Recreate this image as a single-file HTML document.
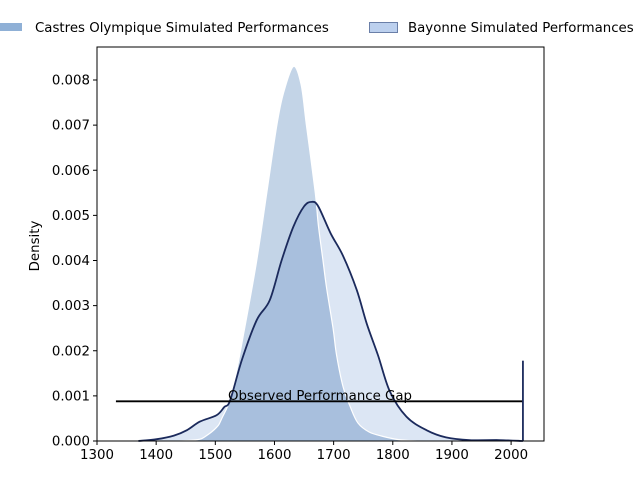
<!DOCTYPE html>
<html><head><meta charset="utf-8"><style>
body{margin:0;background:#fff}
svg{font-family:"DejaVu Sans","Liberation Sans",sans-serif}
</style></head><body>
<svg id="chart" width="640" height="480" viewBox="0 0 640 480">
<g id="plot"></g>
</svg>
<script>
const xTicks=[1300,1400,1500,1600,1700,1800,1900,2000];
const yTicks=[0,0.001,0.002,0.003,0.004,0.005,0.006,0.007,0.008];
const yTickLabels=["0.000","0.001","0.002","0.003","0.004","0.005","0.006","0.007","0.008"];
const castresX=[1440,1470,1483,1502,1511,1528,1550,1570,1587,1604,1615,1632,1645,1654,1669,1674,1682,1688,1699,1705,1716,1728,1741,1760,1784,1810,1840];
const castresY=[0,0.00003,0.0001,0.0003,0.0005,0.00106,0.00253,0.004,0.0055,0.007,0.0077,0.0083,0.0079,0.007,0.0055,0.0048,0.004,0.0034,0.0025,0.0019,0.0012,0.00076,0.0004,0.0002,0.0001,0.00003,0];
const bayonneX=[1370,1401,1430,1452,1474,1502,1515,1525,1545,1570,1592,1612,1632,1650,1663,1674,1695,1716,1739,1756,1775,1795,1823,1857,1890,1930,1980,2020];
const bayonneY=[0,0.00004,0.00012,0.00024,0.00043,0.00057,0.00075,0.0009,0.0018,0.00268,0.00312,0.004,0.00475,0.0052,0.0053,0.0052,0.0046,0.0041,0.00335,0.0026,0.0019,0.0011,0.00054,0.00024,0.00008,0.00002,0.00002,0];
const gapStart=1332, gapEnd=2020, gapLevel=0.00088, vlineTop=0.00178;

const X0=97,X1=544,Y0=441,Y1=47;
const xs=v=>97+(v-1300)*(511.1-97)/700;
const ys=v=>441-v*(441-80)/0.008;
const NS="http://www.w3.org/2000/svg";
const plot=document.getElementById('plot');
function mk(t,a,p){const e=document.createElementNS(NS,t);for(const k in a)e.setAttribute(k,a[k]);(p||plot).appendChild(e);return e;}
function smooth(xa,ya){
  const P=xa.map((x,i)=>[xs(x),ys(ya[i])]);
  let d=`M${P[0][0]},${P[0][1]}`;
  for(let i=0;i<P.length-1;i++){
    const p0=P[i-1]||P[i],p1=P[i],p2=P[i+1],p3=P[i+2]||P[i+1];
    const c1=[p1[0]+(p2[0]-p0[0])/6,p1[1]+(p2[1]-p0[1])/6];
    const c2=[p2[0]-(p3[0]-p1[0])/6,p2[1]-(p3[1]-p1[1])/6];
    d+=` C${c1[0]},${Math.min(c1[1],Y0)} ${c2[0]},${Math.min(c2[1],Y0)} ${p2[0]},${p2[1]}`;
  }
  return d;
}
const bd=smooth(bayonneX,bayonneY), cd=smooth(castresX,castresY);
let e;
e=mk('path',{d:bd+` L${xs(bayonneX[bayonneX.length-1])},${Y0} L${xs(bayonneX[0])},${Y0} Z`,fill:'#dce6f4'});

e=mk('path',{d:cd+` L${xs(castresX[castresX.length-1])},${Y0} L${xs(castresX[0])},${Y0} Z`,fill:'#c3d4e7',style:'mix-blend-mode:multiply'});

e=mk('path',{d:cd,fill:'none',stroke:'#ffffff',"stroke-width":1.2});

e=mk('path',{d:bd,fill:'none',stroke:'#1b2a5c',"stroke-width":1.8});

e=mk('line',{x1:xs(gapStart),x2:xs(gapEnd),y1:ys(gapLevel),y2:ys(gapLevel),stroke:'#000',"stroke-width":1.8});

e=mk('line',{x1:xs(gapEnd),x2:xs(gapEnd),y1:ys(vlineTop),y2:Y0,stroke:'#1b2a5c',"stroke-width":1.8});

e=mk('text',{x:320,y:400,"font-size":13.33,"text-anchor":"middle",fill:'#000'});e.textContent='Observed Performance Gap';

e=mk('rect',{x:X0,y:Y1,width:X1-X0,height:Y0-Y1,fill:'none',stroke:'#000',"stroke-width":1});

xTicks.forEach(t=>{const x=xs(t);
  e=mk('line',{x1:x,x2:x,y1:Y0,y2:Y0+4,stroke:'#000'});
  e=mk('text',{x:x,y:Y0+18,"font-size":13.33,"text-anchor":"middle"});e.textContent=t;});
yTicks.forEach((t,i)=>{const y=ys(t);
  e=mk('line',{x1:X0-4,x2:X0,y1:y,y2:y,stroke:'#000'});
  e=mk('text',{x:X0-7,y:y+4.5,"font-size":13.33,"text-anchor":"end"});e.textContent=yTickLabels[i];});
e=mk('text',{x:39,y:246,"font-size":13.33,"text-anchor":"middle",transform:'rotate(-90 39 246)'});e.textContent='Density';

e=mk('rect',{x:-8,y:23,width:30,height:8,fill:'#8fb0d6'});
e=mk('text',{x:35,y:32,"font-size":13.33});e.textContent='Castres Olympique Simulated Performances';
e=mk('rect',{x:369.5,y:22.5,width:28,height:10,fill:'#bcd0ee',stroke:'#6a7fa8'});
e=mk('text',{x:408,y:32,"font-size":13.33});e.textContent='Bayonne Simulated Performances';
</script>
</body></html>
